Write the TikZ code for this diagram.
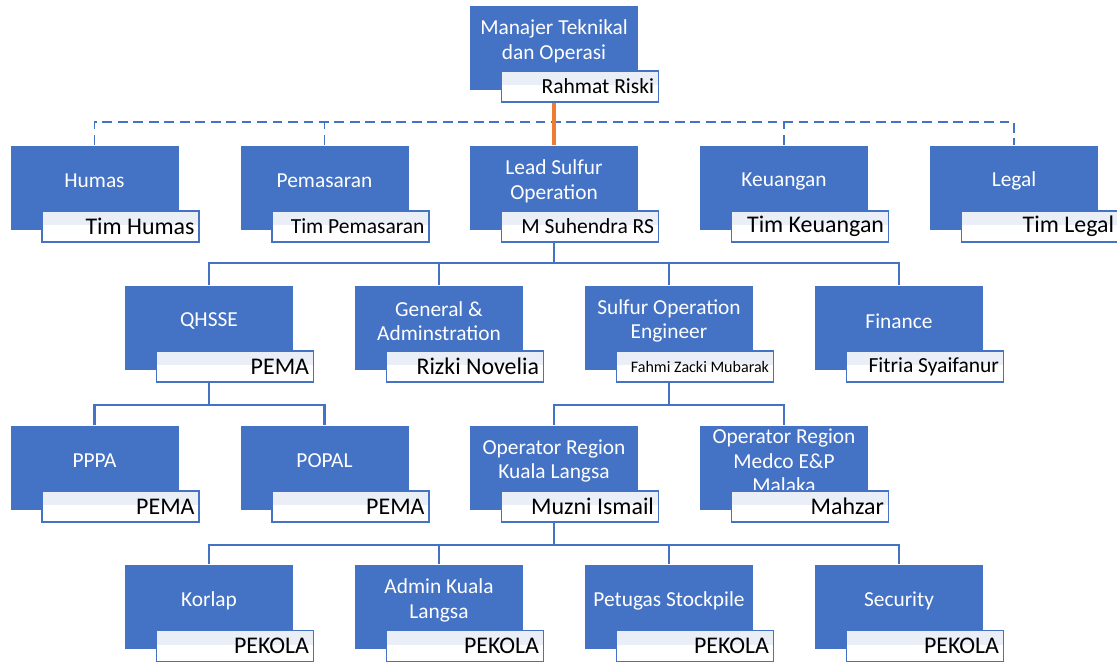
\documentclass[tikz,border=0pt]{standalone}
\usepackage{fontspec}
\setmainfont{Carlito}
\usetikzlibrary{positioning,backgrounds}

\definecolor{smblue}{RGB}{68,114,196}
\definecolor{smorange}{RGB}{237,125,49}
\definecolor{namefill}{RGB}{233,238,247}
\newcommand{\boxfont}{\fontsize{15.2}{17.5}\selectfont}
\newcommand{\namebig}{\fontsize{17}{19}\selectfont}
\newcommand{\namemid}{\fontsize{15.3}{17}\selectfont}
\newcommand{\namesmall}{\fontsize{11.4}{13}\selectfont}

\begin{document}
\begin{tikzpicture}[x=0.025cm, y=-0.025cm]
  \tikzstyle{unit}=[rectangle, fill=smblue, draw=white, line width=0.4pt, minimum width=4.225cm, minimum height=2.125cm, inner sep=0pt]
  \tikzstyle{boxtext}=[text=white, font=\boxfont, align=center, yshift=0.16cm, inner sep=0pt]
  \tikzstyle{person}=[rectangle, draw=smblue, line width=1.2pt, fill=white, minimum width=3.925cm, minimum height=0.775cm, text width=3.7cm, align=flush right, inner xsep=0.1cm, inner ysep=0pt, text=black, font=\namebig,
    path picture={\fill[namefill] (path picture bounding box.north west) rectangle ([yshift=-0.35cm]path picture bounding box.north east);}]
  \tikzstyle{conn}=[draw=smblue, line width=1.6pt]
  \tikzstyle{dashconn}=[draw=smblue, line width=1.2pt, dash pattern=on 7pt off 4pt]
  \tikzstyle{topconn}=[draw=smorange, line width=2.8pt]

  \useasboundingbox (0,0) rectangle (1117,662);

  % top
  \node[unit, label={[boxtext]center:{Manajer Teknikal\\dan Operasi}}] (mgr) at (554,47.5) {};
  \node[person, font=\namemid] (mgr-p) at ([shift={(26,39)}]mgr) {Rahmat Riski};

  % second row
  \node[unit, label={[boxtext]center:Humas}] (hum) at (94.5,187.5) {};
  \node[person] (hum-p) at ([shift={(26,39)}]hum) {Tim Humas};
  \node[unit, label={[boxtext]center:Pemasaran}] (pem) at (324.5,187.5) {};
  \node[person, font=\namemid] (pem-p) at ([shift={(26,39)}]pem) {Tim Pemasaran};
  \node[unit, label={[boxtext]center:{Lead Sulfur\\Operation}}] (lead) at (554,187.5) {};
  \node[person, font=\namemid] (lead-p) at ([shift={(26,39)}]lead) {M Suhendra RS};
  \node[unit, label={[boxtext]center:Keuangan}] (keu) at (784,187.5) {};
  \node[person] (keu-p) at ([shift={(26,39)}]keu) {Tim Keuangan};
  \node[unit, label={[boxtext]center:Legal}] (leg) at (1014,187.5) {};
  \node[person] (leg-p) at ([shift={(26,39)}]leg) {Tim Legal};

  % third row
  \node[unit, label={[boxtext]center:QHSSE}] (qhs) at (209,327.5) {};
  \node[person] (qhs-p) at ([shift={(26,39)}]qhs) {PEMA};
  \node[unit, label={[boxtext]center:{General \&\\Adminstration}}] (gen) at (439,327.5) {};
  \node[person] (gen-p) at ([shift={(26,39)}]gen) {Rizki Novelia};
  \node[unit, label={[boxtext]center:{Sulfur Operation\\Engineer}}] (soe) at (669,327.5) {};
  \node[person, font=\namesmall] (soe-p) at ([shift={(26,39)}]soe) {Fahmi Zacki Mubarak};
  \node[unit, label={[boxtext]center:Finance}] (fin) at (899,327.5) {};
  \node[person, font=\namemid] (fin-p) at ([shift={(26,39)}]fin) {Fitria Syaifanur};

  % fourth row
  \node[unit, label={[boxtext]center:PPPA}] (pppa) at (94.5,467.5) {};
  \node[person] (pppa-p) at ([shift={(26,39)}]pppa) {PEMA};
  \node[unit, label={[boxtext]center:POPAL}] (popal) at (324.5,467.5) {};
  \node[person] (popal-p) at ([shift={(26,39)}]popal) {PEMA};
  \node[unit, label={[boxtext]center:{Operator Region\\Kuala Langsa}}] (okl) at (554,467.5) {};
  \node[person] (okl-p) at ([shift={(26,39)}]okl) {Muzni Ismail};
  \node[unit, label={[boxtext]center:{Operator Region\\Medco E\&P\\Malaka}}] (omm) at (784,467.5) {};
  \node[person] (omm-p) at ([shift={(26,39)}]omm) {Mahzar};

  % fifth row
  \node[unit, label={[boxtext]center:Korlap}] (kor) at (209,607) {};
  \node[person] (kor-p) at ([shift={(26,39)}]kor) {PEKOLA};
  \node[unit, label={[boxtext]center:{Admin Kuala\\Langsa}}] (adm) at (439,607) {};
  \node[person] (adm-p) at ([shift={(26,39)}]adm) {PEKOLA};
  \node[unit, label={[boxtext]center:Petugas Stockpile}] (pet) at (669,607) {};
  \node[person] (pet-p) at ([shift={(26,39)}]pet) {PEKOLA};
  \node[unit, label={[boxtext]center:Security}] (sec) at (899,607) {};
  \node[person] (sec-p) at ([shift={(26,39)}]sec) {PEKOLA};

  % connectors
  \begin{scope}[on background layer]
    \draw[dashconn] (hum.north) -- +(0,-23) -| (leg.north);
    \draw[dashconn] (pem.north) -- +(0,-23);
    \draw[dashconn] (keu.north) -- +(0,-23);
    \draw[topconn] (mgr) -- (lead.north);

    \draw[conn] (qhs.north) -- +(0,-22) coordinate (bus2) -| (fin.north);
    \draw[conn] (gen.north) -- +(0,-22);
    \draw[conn] (soe.north) -- +(0,-22);
    \draw[conn] (lead) -- (lead |- bus2);

    \draw[conn] (pppa.north) -- +(0,-20) coordinate (bus3) -| (popal.north);
    \draw[conn] (qhs) -- (qhs |- bus3);
    \draw[conn] (okl.north) -- +(0,-20) -| (omm.north);
    \draw[conn] (soe) -- (soe |- bus3);

    \draw[conn] (kor.north) -- +(0,-19) coordinate (bus4) -| (sec.north);
    \draw[conn] (adm.north) -- +(0,-19);
    \draw[conn] (pet.north) -- +(0,-19);
    \draw[conn] (okl) -- (okl |- bus4);
  \end{scope}
\end{tikzpicture}
\end{document}
